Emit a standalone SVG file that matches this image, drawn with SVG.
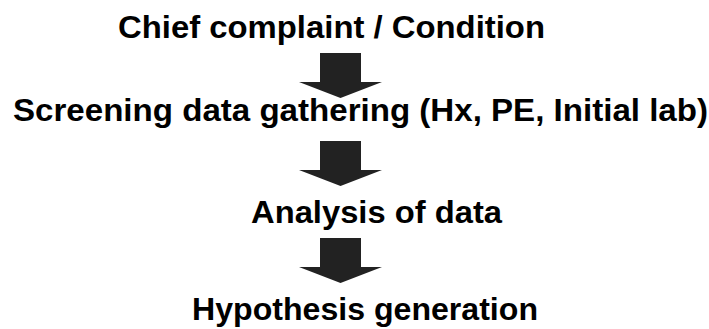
<svg xmlns="http://www.w3.org/2000/svg" width="709" height="329" viewBox="0 0 709 329">
  <style>
    .label { font-family: "Liberation Sans", Arial, sans-serif; font-weight: bold; font-size: 32px; fill: #000; }
    .arrow { fill: #222; }
  </style>
  <defs>
    <!-- block arrow pointing down, origin at top-left of shaft -->
    <polygon id="down-arrow" points="0,0 41,0 41,29 62,29 20.5,45 -21,29 0,29"/>
  </defs>
  <rect width="709" height="329" fill="#fff"/>

  <g id="node-chief-complaint">
    <text class="label" x="118" y="38" textLength="427" lengthAdjust="spacingAndGlyphs">Chief complaint / Condition</text>
  </g>
  <g id="node-screening">
    <text class="label" x="13" y="121" textLength="695" lengthAdjust="spacingAndGlyphs">Screening data gathering (Hx, PE, Initial lab)</text>
  </g>
  <g id="node-analysis">
    <text class="label" x="251" y="223" textLength="251" lengthAdjust="spacingAndGlyphs">Analysis of data</text>
  </g>
  <g id="node-hypothesis">
    <text class="label" x="192" y="320" textLength="346" lengthAdjust="spacingAndGlyphs">Hypothesis generation</text>
  </g>

  <g id="connectors">
    <use href="#down-arrow" class="arrow" x="320" y="53"/>
    <use href="#down-arrow" class="arrow" x="320" y="141"/>
    <use href="#down-arrow" class="arrow" x="320" y="238"/>
  </g>
</svg>
